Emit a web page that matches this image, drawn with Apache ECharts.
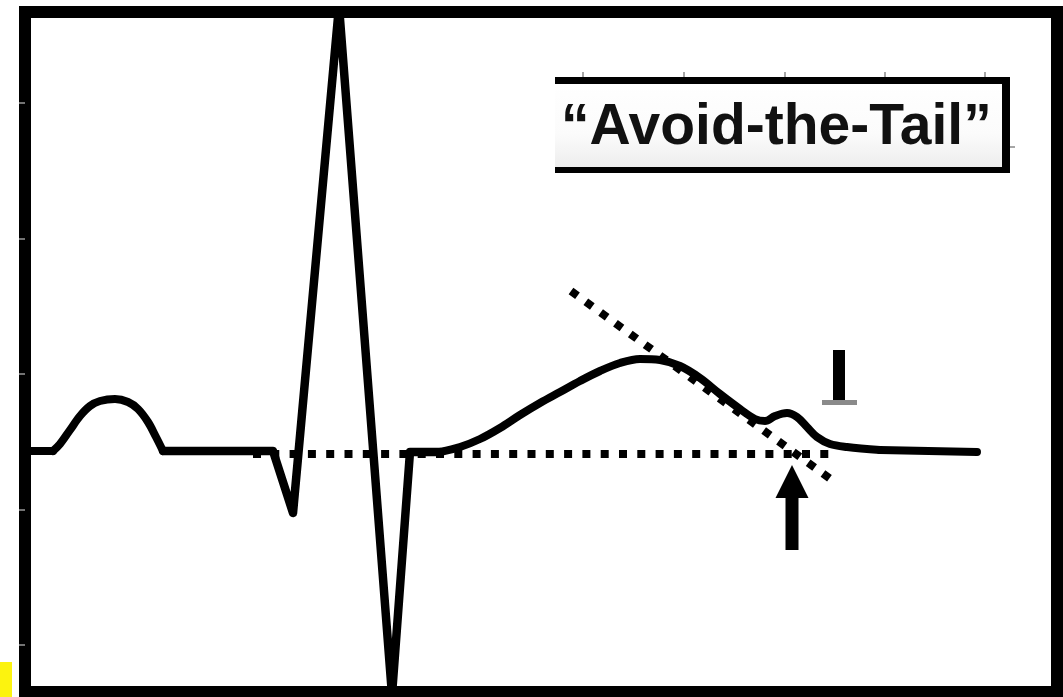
<!DOCTYPE html>
<html><head><meta charset="utf-8">
<script src="https://cdn.jsdelivr.net/npm/echarts@6/dist/echarts.min.js"></script>
<style>html,body{margin:0;padding:0;background:#fff}#c{width:1063px;height:697px}</style>
</head><body><div id="c"></div>
<script>
// ECG trace (x: time units, y: amplitude units, isoelectric baseline = 0)
const leadIn = [[0,0.01],[28,0.01]];
const pWave = [[28,0.01],[35,0.08],[45,0.22],[55,0.36],[65,0.46],[75,0.51],[90,0.53],[103,0.50],[113,0.43],[123,0.30],[131,0.15],[138,0.01]];
const qrs = [[138,0.01],[248,0.01],[268,-0.61],[314,4.46],[367,-2.43],[385,0],[415,0]];
const tWave = [[415,0],[435,0.05],[455,0.13],[475,0.24],[495,0.37],[515,0.49],[535,0.60],[555,0.71],[575,0.81],[595,0.89],[615,0.93],[635,0.92],[655,0.86],[675,0.74],[695,0.58],[715,0.43],[730,0.33],[740,0.31],[750,0.36],[762,0.39],[772,0.35],[782,0.25],[792,0.15],[805,0.08],[822,0.05],[855,0.02]];
const tail = [[855,0.02],[952,0]];
const isoelectric = [[228,-0.02],[805,-0.02]];
const tangent = [[546,1.61],[807,-0.28]];
const arrowMark = [[767,-0.13,-0.98]];
const yTicks = [3.49,2.135,0.78,-0.575,-1.93];
const labelText = '\u201CAvoid-the-Tail\u201D';

const chart = echarts.init(document.getElementById('c'), null, {renderer:'canvas'});
const traceStyle = {color:'#000', width:8, cap:'round', join:'round'};
const dotStyle = {color:'#000', width:8, type:[8,10.3], cap:'butt'};
function trace(data, smooth, extra){
  return Object.assign({type:'line',data:data,symbol:'none',smooth:smooth,lineStyle:traceStyle,z:3}, extra||{});
}
chart.setOption({
  animation:false,
  backgroundColor:'#fff',
  grid:{left:25,right:6,top:12,bottom:5,show:true,borderWidth:12,borderColor:'#000',backgroundColor:'#fff',outerBoundsMode:'none'},
  xAxis:{type:'value',min:0,max:1032,show:false},
  yAxis:{type:'value',min:-2.4,max:4.4,offset:8,
    axisLine:{show:false},axisLabel:{show:false},splitLine:{show:false},
    axisTick:{show:true,customValues:yTicks,length:6,lineStyle:{color:'#999',width:1.5}}},
  series:[
    {type:'line',data:isoelectric,symbol:'none',lineStyle:dotStyle,z:2},
    {type:'line',data:tangent,symbol:'none',lineStyle:dotStyle,z:2},
    trace(leadIn,false),
    trace(pWave,0.35),
    trace(qrs,false,{lineStyle:Object.assign({},traceStyle,{width:8.5})}),
    trace(tWave,0.35),
    trace(tail,false),
    {type:'custom',data:arrowMark,z:4,
      renderItem:function(params,api){
        const tip=api.coord([api.value(0),api.value(1)]);
        const tl=api.coord([api.value(0),api.value(2)]);
        const hw=16.5, hl=33, sw=6.5;
        return {type:'group',children:[
          {type:'polygon',shape:{points:[[tip[0],tip[1]],[tip[0]-hw,tip[1]+hl],[tip[0]+hw,tip[1]+hl]]},style:{fill:'#000'}},
          {type:'rect',shape:{x:tip[0]-sw,y:tip[1]+hl-1,width:2*sw,height:tl[1]-tip[1]-hl+1},style:{fill:'#000'}}
        ]};
      }}
  ],
  graphic:[
    {type:'rect',shape:{x:0,y:662,width:12,height:35},style:{fill:'#fcf30f'},z:10},
    // label box
    {type:'rect',shape:{x:555,y:80,width:450,height:90},z:10,
      style:{fill:new echarts.graphic.LinearGradient(0,0,0,1,[{offset:0,color:'#ffffff'},{offset:0.6,color:'#fbfbfb'},{offset:1,color:'#ececec'}])}},
    {type:'rect',shape:{x:555,y:77,width:455,height:7},style:{fill:'#000'},z:11},
    {type:'rect',shape:{x:1002,y:77,width:8,height:96},style:{fill:'#000'},z:11},
    {type:'rect',shape:{x:555,y:167,width:455,height:6},style:{fill:'#000'},z:11},
    {type:'line',shape:{x1:583,y1:72,x2:583,y2:77},style:{stroke:'#888',lineWidth:1.5},z:11},
    {type:'line',shape:{x1:684,y1:72,x2:684,y2:77},style:{stroke:'#888',lineWidth:1.5},z:11},
    {type:'line',shape:{x1:785,y1:72,x2:785,y2:77},style:{stroke:'#888',lineWidth:1.5},z:11},
    {type:'line',shape:{x1:885,y1:72,x2:885,y2:77},style:{stroke:'#888',lineWidth:1.5},z:11},
    {type:'line',shape:{x1:985,y1:72,x2:985,y2:77},style:{stroke:'#888',lineWidth:1.5},z:11},
    {type:'line',shape:{x1:1010,y1:147,x2:1015,y2:147},style:{stroke:'#888',lineWidth:1.5},z:11},
    {type:'text',x:561,y:128,z:12,style:{text:labelText,font:'bold 57px "Liberation Sans", Arial, sans-serif',fill:'#111',verticalAlign:'middle',align:'left'}},
    // small marker symbol
    {type:'rect',shape:{x:833,y:350,width:12,height:51},style:{fill:'#000'},z:10},
    {type:'rect',shape:{x:822,y:400,width:35,height:5},style:{fill:'#8a8a8a'},z:10}
  ]
});
</script></body></html>
